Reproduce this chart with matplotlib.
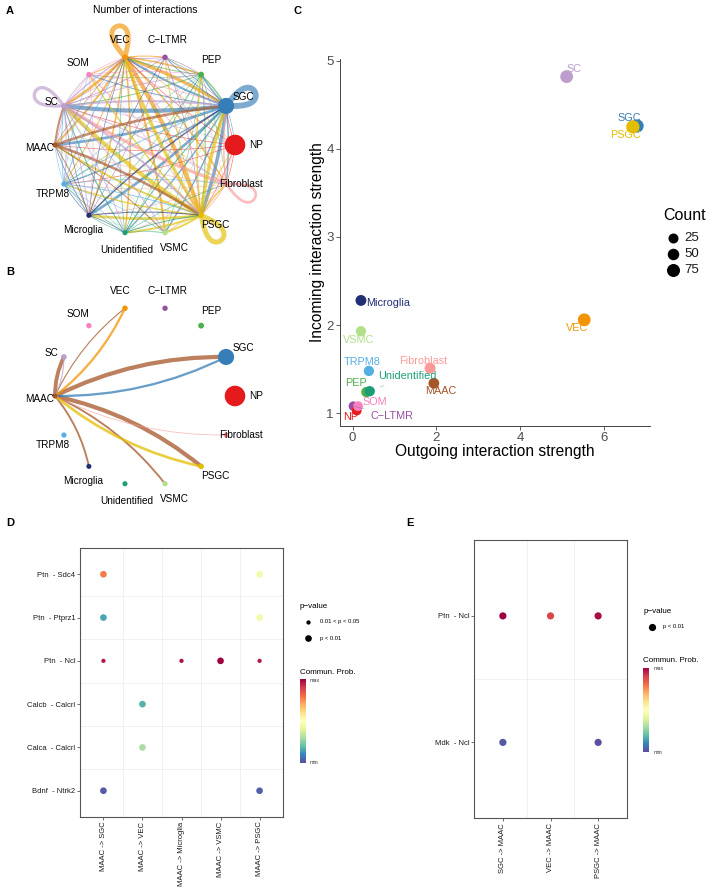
import numpy as np
import matplotlib.pyplot as plt
from matplotlib.path import Path
from matplotlib.patches import PathPatch, Circle

plt.rcParams['font.family'] = ['Liberation Sans', 'DejaVu Sans']

# ---- data: cell groups (circle order, clockwise from top)
cell_types = ['VEC', 'C−LTMR', 'PEP', 'SGC', 'NP', 'Fibroblast', 'PSGC', 'VSMC',
              'Unidentified', 'Microglia', 'TRPM8', 'MAAC', 'SC', 'SOM']
cell_colors = ['#F29403', '#984EA3', '#4DAF4A', '#377EB8', '#E41A1C', '#FB9A99', '#E3BE00',
               '#B2DF8A', '#1B9E77', '#222F75', '#54B0E4', '#A65628', '#BC9DCC', '#F781BF']
group_size = [6, 5, 8, 72, 100, 3, 6, 4, 3, 3, 4, 3, 6, 5]

# number of interactions, rows = source, cols = target (same order as cell_types)
interaction_counts = [
    [8, 2, 3, 6, 1, 3, 7, 4, 3, 3, 2, 4, 5, 2],
    [1, 0, 1, 1, 0, 0, 1, 0, 0, 1, 0, 0, 1, 0],
    [2, 1, 0, 3, 0, 1, 2, 1, 1, 1, 1, 0, 2, 1],
    [4, 2, 3, 9, 1, 3, 6, 3, 3, 5, 3, 5, 7, 2],
    [1, 0, 0, 1, 0, 1, 1, 0, 0, 0, 1, 1, 1, 0],
    [2, 1, 1, 3, 1, 5, 2, 1, 1, 1, 1, 1, 6, 1],
    [6, 2, 3, 6, 2, 3, 8, 4, 4, 5, 3, 4, 7, 3],
    [1, 0, 1, 1, 0, 0, 1, 0, 0, 1, 0, 1, 1, 0],
    [1, 0, 1, 2, 0, 1, 2, 1, 0, 1, 1, 0, 2, 0],
    [1, 1, 0, 3, 0, 0, 2, 0, 1, 0, 1, 1, 1, 0],
    [2, 0, 1, 2, 0, 1, 2, 1, 1, 1, 0, 1, 2, 1],
    [1, 0, 0, 5, 0, 0, 5, 2, 0, 2, 0, 0, 4, 0],
    [3, 1, 2, 4, 1, 2, 4, 2, 2, 2, 2, 2, 6, 2],
    [1, 0, 1, 1, 0, 0, 1, 0, 0, 1, 0, 0, 1, 0],
]

# MAAC signalling (panel B)
b_source = ['MAAC', 'MAAC', 'MAAC', 'MAAC', 'MAAC', 'MAAC', 'SGC', 'PSGC', 'VEC', 'SC', 'Fibroblast']
b_target = ['SGC', 'PSGC', 'SC', 'VEC', 'Microglia', 'VSMC', 'MAAC', 'MAAC', 'MAAC', 'MAAC', 'MAAC']
b_weight = [5, 5, 4.5, 1, 2, 2, 2.5, 3, 2.5, 1, 0.4]

# signalling role scatter (panel C)
outgoing = [5.53, 0.02, 0.33, 6.79, 0.10, 1.85, 6.69, 0.20, 0.41, 0.20, 0.39, 1.94, 5.11, 0.13]
incoming = [2.06, 1.08, 1.24, 4.26, 1.03, 1.51, 4.25, 1.93, 1.25, 2.28, 1.48, 1.34, 4.82, 1.08]
link_count = [72, 18, 30, 80, 20, 42, 80, 30, 30, 40, 30, 38, 72, 22]
count_breaks = [25, 50, 75]

# bubble plot D (MAAC as source)
d_pairs = ['Ptn  - Sdc4', 'Ptn  - Ptprz1', 'Ptn  - Ncl', 'Calcb  - Calcrl', 'Calca  - Calcrl', 'Bdnf  - Ntrk2']
d_groups = ['MAAC -> SGC', 'MAAC -> VEC', 'MAAC -> Microglia', 'MAAC -> VSMC', 'MAAC -> PSGC']
d_pt_pair = ['Ptn  - Sdc4', 'Ptn  - Sdc4', 'Ptn  - Ptprz1', 'Ptn  - Ptprz1', 'Ptn  - Ncl', 'Ptn  - Ncl',
             'Ptn  - Ncl', 'Ptn  - Ncl', 'Calcb  - Calcrl', 'Calca  - Calcrl', 'Bdnf  - Ntrk2', 'Bdnf  - Ntrk2']
d_pt_group = ['MAAC -> SGC', 'MAAC -> PSGC', 'MAAC -> SGC', 'MAAC -> PSGC', 'MAAC -> SGC', 'MAAC -> Microglia',
              'MAAC -> VSMC', 'MAAC -> PSGC', 'MAAC -> VEC', 'MAAC -> VEC', 'MAAC -> SGC', 'MAAC -> PSGC']
d_prob = [0.78, 0.45, 0.15, 0.45, 0.96, 0.97, 1.0, 0.96, 0.17, 0.30, 0.02, 0.03]
d_pval = [2, 2, 2, 2, 1, 1, 2, 1, 2, 2, 2, 2]   # 1: 0.01 < p < 0.05, 2: p < 0.01

# bubble plot E (MAAC as target)
e_pairs = ['Ptn  - Ncl', 'Mdk  - Ncl']
e_groups = ['SGC -> MAAC', 'VEC -> MAAC', 'PSGC -> MAAC']
e_pt_pair = ['Ptn  - Ncl', 'Ptn  - Ncl', 'Ptn  - Ncl', 'Mdk  - Ncl', 'Mdk  - Ncl']
e_pt_group = ['SGC -> MAAC', 'VEC -> MAAC', 'PSGC -> MAAC', 'SGC -> MAAC', 'PSGC -> MAAC']
e_prob = [1.0, 0.88, 0.98, 0.02, 0.0]
e_pval = [2, 2, 2, 2, 2]

W, H = 708, 890
PT = 72 / 100   # points per pixel
fig = plt.figure(figsize=(W / 100, H / 100), dpi=100)


def px_axes(left, top, width, height):
    return fig.add_axes([left / W, 1 - (top + height) / H, width / W, height / H])


# ---- circle plots
n = len(cell_types)
ang = np.deg2rad((4 - np.arange(n)) * 360 / n)
pos = np.c_[90 * np.cos(ang), 90 * np.sin(ang)]
node_r = [2.3 + 8 * s / max(group_size) for s in group_size]
label_off = [(-5, -17), (2, -17), (10, -15), (17, -9), (21, 0), (15, 0), (14, 10), (9, 15),
             (2, 17), (-6, 15), (-11, 10), (-15, 3), (-12, -4), (-11, -12)]


def curved_edge(ax, p0, p1, color, lw, alpha, curv=0.12):
    mid = (p0 + p1) / 2
    d = p1 - p0
    ctrl = mid + curv * np.array([-d[1], d[0]])
    path = Path([p0, ctrl, p1], [Path.MOVETO, Path.CURVE3, Path.CURVE3])
    ax.add_patch(PathPatch(path, fill=False, edgecolor=color, lw=lw, alpha=alpha,
                           capstyle='round', zorder=2))


def self_loop(ax, p, color, lw, alpha, L=32, wd=8):
    u = p / np.linalg.norm(p)
    v = np.array([-u[1], u[0]])
    t = np.linspace(0, np.pi, 80)
    pts = p + np.outer(L * np.sin(t), u) + np.outer(wd * np.sin(2 * t), v)
    ax.plot(pts[:, 0], pts[:, 1], color=color, lw=lw, alpha=alpha, solid_capstyle='round', zorder=2)


def draw_nodes(ax):
    for i in range(n):
        ax.add_patch(Circle(pos[i], node_r[i], color=cell_colors[i], zorder=4, lw=0))
        ax.text(pos[i][0] + label_off[i][0], pos[i][1] - label_off[i][1], cell_types[i],
                fontsize=7.2, ha='center', va='center', zorder=5)


axA = px_axes(0, 0, 290, 265)
axA.set_xlim(-145, 145)
axA.set_ylim(-120, 145)
axA.axis('off')
mat = np.array(interaction_counts, dtype=float)
wmax = mat.max()
for i in range(n):
    for j in range(n):
        w = mat[i, j]
        if w <= 0:
            continue
        lw = (0.4 + 5.5 * (w / wmax) ** 1.5) * PT
        if i == j:
            self_loop(axA, pos[i], cell_colors[i], lw, 0.65)
        else:
            curved_edge(axA, pos[i], pos[j], cell_colors[i], lw, 0.65, curv=0.06)
draw_nodes(axA)
axA.text(0, 135, 'Number of interactions', fontsize=7.5, ha='center', va='center')

axB = px_axes(0, 265, 290, 250)
axB.set_xlim(-145, 145)
axB.set_ylim(-119, 131)
axB.axis('off')
bmax = max(b_weight)
for s, t, w in zip(b_source, b_target, b_weight):
    i, j = cell_types.index(s), cell_types.index(t)
    curved_edge(axB, pos[i], pos[j], cell_colors[i], (0.4 + 3.8 * w / bmax) * PT, 0.75)
draw_nodes(axB)

# ---- panel C scatter
axC = px_axes(340, 59, 310, 367)


def count_size(c):
    return ((8.5 + 0.06 * np.asarray(c)) * PT) ** 2


axC.scatter(outgoing, incoming, s=count_size(link_count), c=cell_colors, lw=0, zorder=3)
c_label_off = [(-7, 8), (39, 10), (-10, -9), (-8, -8), (-6, 6), (-7, -7), (-7, 8), (-2, 9),
               (38, -15), (27, 3), (-7, -9), (7, 8), (7, -8), (17, -4)]
for i in range(n):
    dx, dy = c_label_off[i]
    seg = abs(dx) > 30
    axC.annotate(cell_types[i], (outgoing[i], incoming[i]), xytext=(dx * PT, -dy * PT),
                 textcoords='offset points', color=cell_colors[i], fontsize=7.8,
                 ha='center', va='center', zorder=4,
                 arrowprops=dict(arrowstyle='-', color=cell_colors[i], lw=0.4, alpha=0.6,
                                 shrinkA=3, shrinkB=8) if seg else None)
axC.set_xlim(-0.30, 7.1)
axC.set_ylim(0.855, 5.02)
axC.set_xticks([0, 2, 4, 6])
axC.set_yticks([1, 2, 3, 4, 5])
for sp in ['top', 'right']:
    axC.spines[sp].set_visible(False)
for sp in ['left', 'bottom']:
    axC.spines[sp].set_color('#444444')
    axC.spines[sp].set_linewidth(0.7)
axC.tick_params(length=3, width=0.6, color='#444444', labelsize=9.5, labelcolor='#4D4D4D', pad=1.5)
axC.set_xlabel('Outgoing interaction strength', fontsize=11.2, labelpad=0)
axC.set_ylabel('Incoming interaction strength', fontsize=11.2, labelpad=1)


# ---- bubble plots
def bubble(ax, pairs, groups, pt_pair, pt_group, prob, pval, sizes):
    ny, nx = len(pairs), len(groups)
    xs = [groups.index(g) + 1 for g in pt_group]
    ys = [ny - pairs.index(p) for p in pt_pair]
    for k in range(1, nx):
        ax.axvline(k + 0.5, color='#EBEBEB', lw=0.5, zorder=0)
    for k in range(1, ny):
        ax.axhline(k + 0.5, color='#EBEBEB', lw=0.5, zorder=0)
    ax.scatter(xs, ys, s=[sizes[v] for v in pval], c=prob, cmap='Spectral_r', vmin=0, vmax=1,
               lw=0, zorder=3)
    ax.set_xlim(0.4, nx + 0.6)
    ax.set_ylim(0.4, ny + 0.6)
    ax.set_xticks(range(1, nx + 1))
    ax.set_xticklabels(groups, rotation=90, fontsize=5.5, va='top', ha='center')
    ax.set_yticks(range(1, ny + 1))
    ax.set_yticklabels(pairs[::-1], fontsize=5.5)
    ax.tick_params(length=2, width=0.5, color='#333333', labelcolor='#1A1A1A', pad=1.5)
    for sp in ax.spines.values():
        sp.set_color('#555555')
        sp.set_linewidth(0.8)


axD = px_axes(80, 548.3, 203, 268.4)
bubble(axD, d_pairs, d_groups, d_pt_pair, d_pt_group, d_prob, d_pval, {1: 9.5, 2: 23})
axE = px_axes(474.3, 540, 152.4, 278.3)
bubble(axE, e_pairs, e_groups, e_pt_pair, e_pt_group, e_prob, e_pval, {1: 9.5, 2: 27})

grad = np.linspace(1, 0, 200)[:, None]
for l, t, h in [(300, 679, 84), (643.3, 667.7, 84.6)]:
    cb = px_axes(l, t, 6, h)
    cb.imshow(grad, aspect='auto', cmap='Spectral_r')
    cb.axis('off')

# ---- overlay: panel letters and legends
ov = fig.add_axes([0, 0, 1, 1])
ov.set_xlim(0, W)
ov.set_ylim(H, 0)
ov.axis('off')
for letter, x, y in [('A', 10, 11), ('B', 10, 272), ('C', 297.5, 10.5), ('D', 10, 523), ('E', 410, 523)]:
    ov.text(x, y, letter, fontsize=8, fontweight='bold', ha='center', va='center')

ov.text(663, 216, 'Count', fontsize=11.5, ha='left', va='center')
for k, c in enumerate(count_breaks):
    y = 238.3 + k * 16
    ov.scatter([672.7], [y], s=count_size(c), color='black', lw=0)
    ov.text(684, y, str(c), fontsize=9.5, ha='left', va='center', color='#1A1A1A')

# D legend
ov.text(300, 606, 'p−value', fontsize=5.8, ha='left', va='center')
ov.scatter([307.7], [621.7], s=9.5, color='black', lw=0)
ov.text(320, 621.7, '0.01 < p < 0.05', fontsize=4.2, ha='left', va='center')
ov.scatter([307.7], [638.3], s=23, color='black', lw=0)
ov.text(320, 638.3, 'p < 0.01', fontsize=4.2, ha='left', va='center')
ov.text(300, 672, 'Commun. Prob.', fontsize=5.8, ha='left', va='center')
ov.text(310, 680, 'max', fontsize=3.8, ha='left', va='center', color='#333333')
ov.text(310, 763, 'min', fontsize=3.8, ha='left', va='center', color='#333333')

# E legend
ov.text(643.3, 611.7, 'p−value', fontsize=5.8, ha='left', va='center')
ov.scatter([651.7], [626.7], s=27, color='black', lw=0)
ov.text(663.3, 626.7, 'p < 0.01', fontsize=4.2, ha='left', va='center')
ov.text(643.3, 661, 'Commun. Prob.', fontsize=5.8, ha='left', va='center')
ov.text(653.5, 668.5, 'max', fontsize=3.8, ha='left', va='center', color='#333333')
ov.text(653.5, 752, 'min', fontsize=3.8, ha='left', va='center', color='#333333')

fig.savefig('out.png', dpi=100)
